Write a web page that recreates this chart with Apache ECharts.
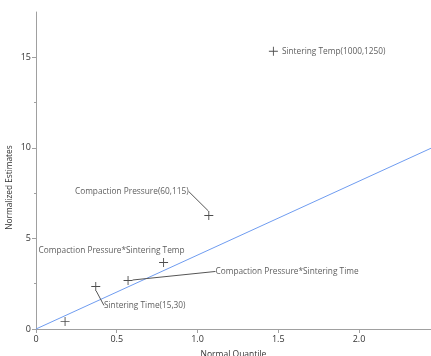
<!DOCTYPE html>
<html>
<head>
<meta charset="utf-8">
<script src="https://cdn.jsdelivr.net/npm/echarts@6/dist/echarts.min.js"></script>
<style>
  html, body { margin: 0; padding: 0; background: #fff; }
  #chart { width: 431px; height: 356px; }
</style>
</head>
<body>
<div id="chart"></div>
<script>
// effect names, normal quantiles and normalized estimates
const effectNames = ['', 'Sintering Time(15,30)', 'Compaction Pressure*Sintering Time',
    'Compaction Pressure*Sintering Temp', 'Compaction Pressure(60,115)', 'Sintering Temp(1000,1250)'];
const quantiles = [0.18, 0.37, 0.57, 0.79, 1.07, 1.47];
const estimates = [0.41, 2.35, 2.68, 3.67, 6.27, 15.33];
const fitSlope = 4.08;
const xTicks = [0, 0.5, 1.0, 1.5, 2.0];
const yTicks = [0, 5, 10, 15];
const yMinorTicks = [2.5, 7.5, 12.5];

// label placement (px offset from the point), null = right of point
const labelOffsets = [null, [49, 19], [159, -9], [-52, -12], [-77, -24], null];
const showLeader = [false, true, true, false, true, false];

const xMin = 0, xMax = 2.446, yMin = -0.11, yMax = 17.5;
const font = 'Open Sans';

let chart = echarts.init(document.getElementById('chart'));

const plus = 'path://M4.5,0H5.5V4.5H10V5.5H5.5V10H4.5V5.5H0V4.5H4.5Z';

const points = quantiles.map((q, i) => ({
    value: [q, estimates[i]],
    name: effectNames[i],
    label: labelOffsets[i] ? { position: 'inside' } : { position: 'right', distance: 4 },
    labelLine: { show: showLeader[i] }
}));

const option = {
    animation: false,
    grid: { left: 36, top: 12, right: 0, bottom: 25, containLabel: false, outerBoundsMode: 'none' },
    xAxis: {
        type: 'value',
        min: xMin, max: xMax,
        name: 'Normal Quantile',
        nameLocation: 'middle',
        nameGap: 19,
        nameTextStyle: { fontFamily: font, fontSize: 8.5, color: '#333' },
        axisLine: { lineStyle: { color: '#a0a0a0' } },
        axisTick: { length: 4, customValues: xTicks, lineStyle: { color: '#a0a0a0' } },
        axisLabel: {
            customValues: xTicks,
            fontFamily: font, fontSize: 9, color: '#333', margin: 4,
            formatter: v => v === 0 ? '0' : v.toFixed(1)
        },
        splitLine: { show: false }
    },
    yAxis: [{
        type: 'value',
        min: yMin, max: yMax,
        name: 'Normalized Estimates',
        nameLocation: 'middle',
        nameGap: 22,
        nameMoveOverlap: false,
        nameTextStyle: { fontFamily: font, fontSize: 8.3, color: '#333', padding: [0, 32, 0, 0] },
        axisLine: { show: true, lineStyle: { color: '#a0a0a0' } },
        axisTick: { show: true, length: 4, customValues: yTicks, lineStyle: { color: '#a0a0a0' } },
        axisLabel: { customValues: yTicks, fontFamily: font, fontSize: 9, color: '#333', margin: 5 },
        splitLine: { show: false }
    }, {
        type: 'value',
        position: 'left',
        min: yMin, max: yMax,
        axisLine: { show: false },
        axisTick: { show: true, length: 2, customValues: yMinorTicks, lineStyle: { color: '#a0a0a0' } },
        axisLabel: { show: false },
        splitLine: { show: false }
    }],
    series: [
        {
            type: 'line',
            data: [[xMin, 0], [xMax, fitSlope * xMax]],
            symbol: 'none',
            lineStyle: { color: '#6f9cf0', width: 1 },
            silent: true,
            z: 1
        },
        {
            type: 'scatter',
            data: points,
            symbol: plus,
            symbolSize: 9,
            itemStyle: { color: '#222' },
            label: {
                show: true,
                formatter: '{b}',
                fontFamily: font, fontSize: 8.3, color: '#333'
            },
            labelLine: { show: true, lineStyle: { color: '#555', width: 1 } },
            labelLayout: p => {
                const off = labelOffsets[p.dataIndex];
                return off ? { dx: off[0], dy: off[1] } : {};
            },
            z: 3
        }
    ]
};

chart.setOption(option);

window.addEventListener('resize', function () {
    chart.resize();
});
</script>
</body>
</html>
